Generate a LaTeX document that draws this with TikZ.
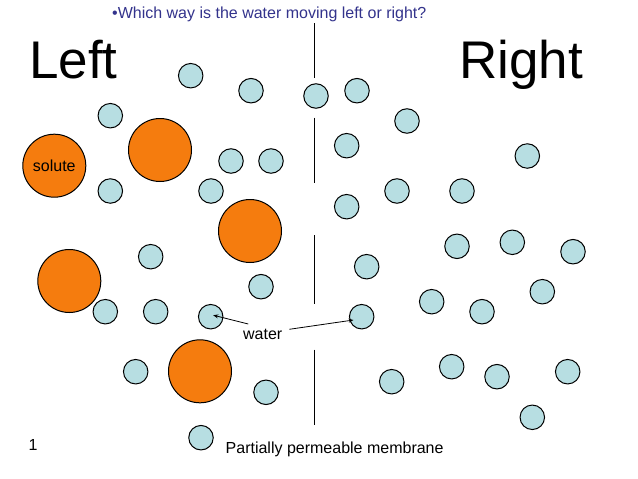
\documentclass[tikz,border=0pt]{standalone}
\usepackage{fontspec}
\setmainfont{Liberation Sans}
\usetikzlibrary{arrows.meta,calc}
\definecolor{waterfill}{RGB}{183,222,226}
\definecolor{solutefill}{RGB}{245,124,14}
\definecolor{qblue}{RGB}{51,51,140}
\tikzset{
  wat/.style={circle,draw=black,line width=1pt,fill=waterfill,minimum size=24.5pt,inner sep=0pt},
  sol/.style={circle,draw=black,line width=1pt,fill=solutefill,minimum size=63pt,inner sep=0pt},
  memb/.style={line width=1pt,black},
  lbl/.style={font=\fontsize{16}{18}\selectfont,inner sep=0pt},
  big/.style={font=\fontsize{53}{58}\selectfont,inner sep=0pt,anchor=base west},
  ptr/.style={line width=0.8pt,-{Stealth[length=5pt,width=4pt]}}
}
\begin{document}
\begin{tikzpicture}[x=1pt,y=-1pt]
\useasboundingbox[fill=white] (0,0) rectangle (638,479);
% membrane
\coordinate (m1a) at (314.3,23); \coordinate (m1b) at (314.3,77.5);
\coordinate (m2a) at (314.3,117.5); \coordinate (m2b) at (314.3,182.5);
\coordinate (m3a) at (314.3,235); \coordinate (m3b) at (314.3,304);
\coordinate (m4a) at (314.3,349.5); \coordinate (m4b) at (314.3,425);
\draw[memb] (m1a) -- (m1b);
\draw[memb] (m2a) -- (m2b);
\draw[memb] (m3a) -- (m3b);
\draw[memb] (m4a) -- (m4b);
% solutes
\node[sol] (s1) at (160,150) {};
\node[sol] (s2) at (54.3,165.7) {};
\node[lbl] at (s2) {solute};
\node[sol] (s3) at (250,231) {};
\node[sol] (s4) at (69.3,281) {};
\node[sol] (s5) at (200,371.3) {};
% water left
\node[wat] (l1) at (190.7,75.7) {};
\node[wat] (l2) at (251,90.7) {};
\node[wat] (l3) at (316,96) {};
\node[wat] (l4) at (110.3,115.7) {};
\node[wat] (l5) at (231,161) {};
\node[wat] (l6) at (271,161) {};
\node[wat] (l7) at (110.3,191) {};
\node[wat] (l8) at (211,191) {};
\node[wat] (l9) at (150.7,256.7) {};
\node[wat] (l10) at (261,286.7) {};
\node[wat] (l11) at (105.3,311.7) {};
\node[wat] (l12) at (155.7,311.7) {};
\node[wat] (l13) at (210.7,316.7) {};
\node[wat] (l14) at (135.7,371.7) {};
\node[wat] (l15) at (266,392.3) {};
\node[wat] (l16) at (201,437.7) {};
% water right
\node[wat] (r1) at (357,90.7) {};
\node[wat] (r2) at (407,121) {};
\node[wat] (r3) at (346.7,145.7) {};
\node[wat] (r4) at (527.3,156) {};
\node[wat] (r5) at (397,191) {};
\node[wat] (r6) at (462,191) {};
\node[wat] (r7) at (346.7,206.7) {};
\node[wat] (r8) at (457,246.3) {};
\node[wat] (r9) at (512.3,242.3) {};
\node[wat] (r10) at (573,251.7) {};
\node[wat] (r11) at (366.7,266.7) {};
\node[wat] (r12) at (431.7,301.7) {};
\node[wat] (r13) at (482,311.7) {};
\node[wat] (r14) at (542.3,291.7) {};
\node[wat] (r15) at (361.7,316.7) {};
\node[wat] (r16) at (391.7,381.7) {};
\node[wat] (r17) at (451.7,366.7) {};
\node[wat] (r18) at (497,376.7) {};
\node[wat] (r19) at (567.7,371.7) {};
\node[wat] (r20) at (532.3,417.3) {};
% labels
\node[lbl,text=qblue,anchor=base west] (q) at (112,18) {\textbullet Which way is the water moving left or right?};
\node[big] (left) at (29,78) {Left};
\node[big] (right) at (459,78) {Right};
\node[lbl] (wl) at (262.7,334) {water};
\node[lbl,anchor=base west] (pm) at (225.5,453.5) {Partially permeable membrane};
\node[lbl,anchor=base west] (num) at (28.5,450) {1};
% pointers
\coordinate (p1) at (248.3,324);
\coordinate (p2) at (289.3,329.3);
\coordinate (t1) at ($(l13.center)+(2.5,-1.5)$);
\coordinate (t2) at (353.5,320);
\draw[ptr] (p1) -- (t1);
\draw[ptr] (p2) -- (t2);
\end{tikzpicture}
\end{document}
